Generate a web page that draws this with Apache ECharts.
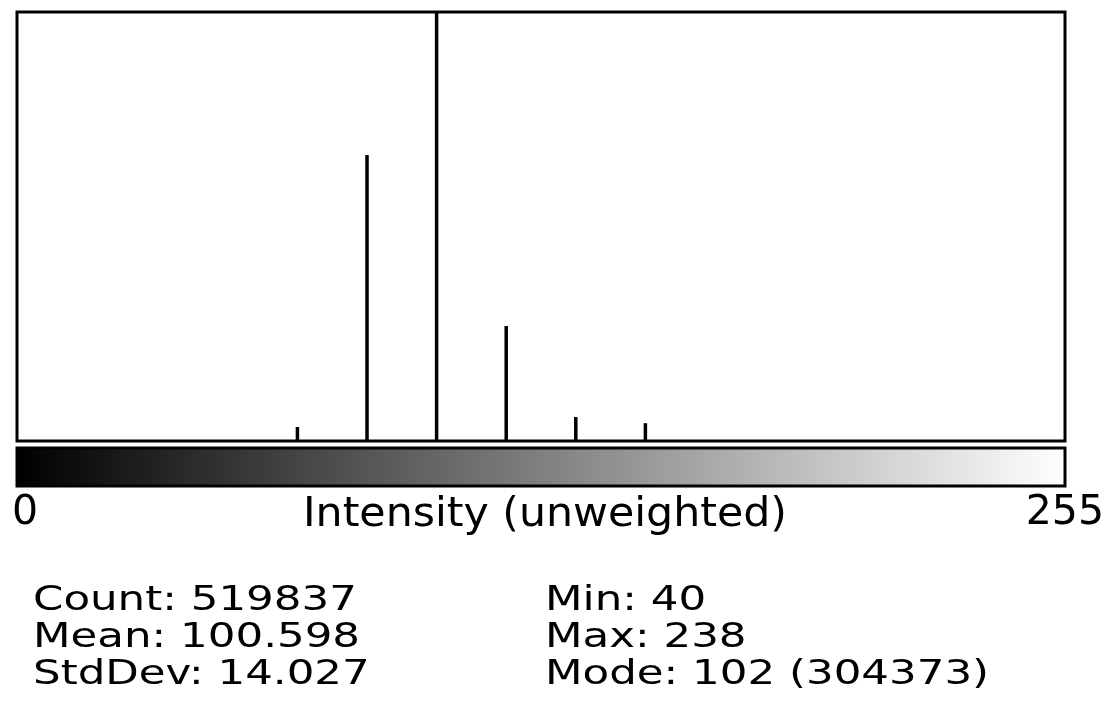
<!DOCTYPE html>
<html>
<head>
<meta charset="utf-8">
<script src="https://cdn.jsdelivr.net/npm/echarts@6/dist/echarts.min.js"></script>
<style>
html,body{margin:0;padding:0;background:#fff;}
#chart{width:1113px;height:724px;}
</style>
</head>
<body>
<div id="chart"></div>
<script>
// Histogram data (ImageJ, 256 bins, only non-empty bins listed)
const intensities = [40, 68, 85, 102, 119, 136, 153, 238];
const counts = [10, 6600, 134900, 304373, 54246, 11300, 8400, 8];
const axisEndLabels = ['0', '255'];
const axisTitle = 'Intensity (unweighted)';
const statsLeft = ['Count: 519837', 'Mean: 100.598', 'StdDev: 14.027'];
const statsRight = ['Min: 40', 'Max: 238', 'Mode: 102 (304373)'];

// Build the 256-bin table the category axis needs
const binLabels = [];
const binValues = [];
for (let i = 0; i < 256; i++) { binLabels.push(String(i)); binValues.push(0); }
intensities.forEach((v, k) => { binValues[v] = counts[k]; });

// ImageJ display rule: if mode > 2x the second-largest count, scale to 1.5x second-largest
const sorted = counts.slice().sort((a, b) => b - a);
const yMax = sorted[0] > 2 * sorted[1] ? sorted[1] * 1.5 : sorted[0];

const FONT = '"DejaVu Sans", sans-serif';
const chart = echarts.init(document.getElementById('chart'), null, {renderer: 'canvas'});

const statText = (txt, x, y) => ({
  type: 'text', x: x, y: y, scaleX: 1.28, scaleY: 1, silent: true,
  style: {text: txt, fill: '#000', font: '34px ' + FONT, textAlign: 'left', textVerticalAlign: 'middle'}
});

chart.setOption({
  animation: false,
  backgroundColor: '#fff',
  grid: {left: 17, top: 12, width: 1048, height: 429, show: true,
         borderColor: '#000', borderWidth: 3, backgroundColor: '#fff'},
  xAxis: {type: 'category', data: binLabels, boundaryGap: true,
          axisLine: {show: false}, axisTick: {show: false}, axisLabel: {show: false}, splitLine: {show: false}},
  yAxis: {type: 'value', min: 0, max: yMax,
          axisLine: {show: false}, axisTick: {show: false}, axisLabel: {show: false}, splitLine: {show: false}},
  series: [{
    type: 'bar', data: binValues, barWidth: 3.5, clip: true,
    itemStyle: {color: '#000'}, silent: true
  }],
  graphic: [
    {type: 'rect', silent: true,
     shape: {x: 17, y: 448, width: 1048, height: 38},
     style: {fill: new echarts.graphic.LinearGradient(0, 0, 1, 0, [
       {offset: 0, color: '#000'}, {offset: 1, color: '#fff'}]),
       stroke: '#000', lineWidth: 3}},
    {type: 'text', x: 12, y: 513, silent: true,
     style: {text: axisEndLabels[0], fill: '#000', font: '41px ' + FONT, textAlign: 'left', textVerticalAlign: 'middle'}},
    {type: 'text', x: 1104, y: 513, silent: true,
     style: {text: axisEndLabels[1], fill: '#000', font: '41px ' + FONT, textAlign: 'right', textVerticalAlign: 'middle'}},
    {type: 'text', x: 303, y: 516, scaleX: 1.067, silent: true,
     style: {text: axisTitle, fill: '#000', font: '40px ' + FONT, textAlign: 'left', textVerticalAlign: 'middle'}},
    statText(statsLeft[0], 33, 601),
    statText(statsLeft[1], 33, 638),
    statText(statsLeft[2], 33, 675),
    statText(statsRight[0], 545, 601),
    statText(statsRight[1], 545, 638),
    statText(statsRight[2], 545, 675)
  ]
});
</script>
</body>
</html>
